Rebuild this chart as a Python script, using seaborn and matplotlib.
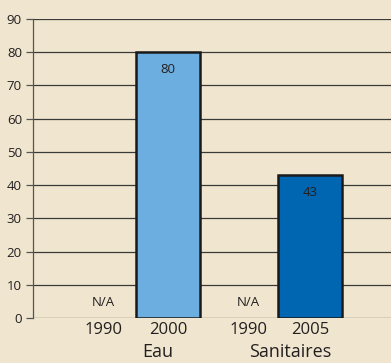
import matplotlib
matplotlib.use('Agg')
import matplotlib.pyplot as plt
import seaborn as sns
import numpy as np
import pandas as pd

# values
years = ['1990', '2000', '1990', '2005']
groups = ['Eau', 'Eau', 'Sanitaires', 'Sanitaires']
values = [np.nan, 80, np.nan, 43]
group_names = ['Eau', 'Sanitaires']

# layout: x slot of each year (the gap between groups is a bit wider)
slots = [0.0, 1.0, 2.23, 3.18]
group_centers = [0.84, 2.88]
bar_width = 0.98

bg = '#f0e6cf'
ink = '#231f20'
palette = {'Eau': '#6daee1', 'Sanitaires': '#0066b1'}

sns.set_theme(style='white')
plt.rcParams['font.family'] = ['Open Sans', 'DejaVu Sans']

df = pd.DataFrame({'slot': slots, 'value': values, 'year': years, 'group': groups})
bars = df.dropna()

fig = plt.figure(figsize=(3.91, 3.63), dpi=100, facecolor=bg)
ax = fig.add_axes([33 / 391, 45 / 363, 358 / 391, 299 / 363])
ax.set_facecolor(bg)

# seaborn scales width by the smallest gap between bars on a native scale
gap = np.min(np.diff(bars['slot'].values))
sns.barplot(data=bars, x='slot', y='value', hue='group', palette=palette,
            native_scale=True, dodge=False, legend=False, width=bar_width / gap,
            edgecolor='#1a1a1a', linewidth=1.8, saturation=1, ax=ax, zorder=3)

for s, v in zip(slots, values):
    if np.isnan(v):
        ax.text(s, 4.8, 'N/A', ha='center', va='center', fontsize=9.5, color=ink)
    else:
        ax.text(s, v - 5.3, f'{v:.0f}', ha='center', va='center', fontsize=9.5, color=ink, zorder=4)

ax.set_xlim(-1.08, 4.43)
ax.set_ylim(0, 90)
ax.set_yticks(range(0, 91, 10))
ax.set_xticks(slots)
ax.set_xticklabels(years)
ax.set_xlabel('')
ax.set_ylabel('')

ax.yaxis.grid(True, color='#3a3a3a', linewidth=0.9, zorder=0)
ax.xaxis.grid(False)
for side in ['top', 'right', 'bottom']:
    ax.spines[side].set_visible(False)
ax.spines['left'].set_color('#555555')
ax.spines['left'].set_linewidth(0.9)

ax.tick_params(axis='y', left=True, length=5, width=0.9, color='#555555',
               labelsize=9.5, labelcolor=ink, pad=3)
ax.tick_params(axis='x', length=0, labelsize=12, labelcolor=ink, pad=3)

for name, c in zip(group_names, group_centers):
    ax.text(c, -0.115, name, transform=ax.get_xaxis_transform(), ha='center', va='center',
            fontsize=13, color=ink)

fig.savefig('out.png', dpi=100, facecolor=bg)
